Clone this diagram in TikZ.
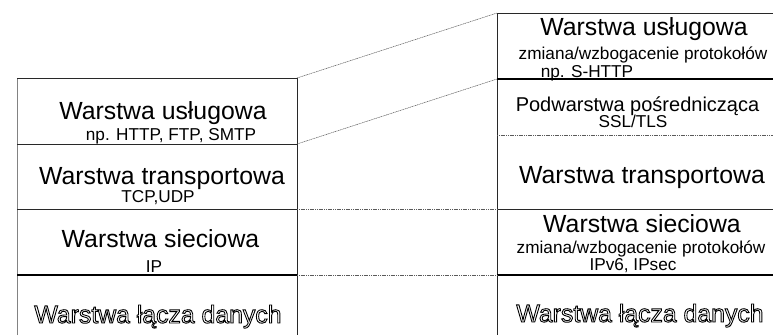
\documentclass[tikz,border=0pt]{standalone}
\usepackage{fontspec}
\setmainfont{Liberation Sans}
\usetikzlibrary{positioning}
\definecolor{linecolor}{RGB}{40,40,40}
\definecolor{sidecolor}{RGB}{130,130,130}
\definecolor{linkcolor}{RGB}{90,90,90}
\newcommand{\hollowtext}[1]{\special{pdf:literal direct 1 Tr 0.9 w}#1\special{pdf:literal direct 0 Tr}}

\begin{document}
\begin{tikzpicture}[x=1pt,y=-1pt,
  bigtext/.style={font=\fontsize{24.8}{26}\selectfont, inner sep=0pt, anchor=base},
  midtext/.style={font=\fontsize{20}{22}\selectfont, inner sep=0pt, anchor=base},
  smalltext/.style={font=\fontsize{17.2}{19}\selectfont, inner sep=0pt, anchor=base},
  layerline/.style={draw=linecolor, line width=0.8pt},
  boldline/.style={draw=black, line width=1.5pt},
  linkline/.style={draw=linkcolor, line width=0.5pt, dash pattern=on 1.2pt off 0.6pt}]

  % Frame
  \useasboundingbox (0,0) rectangle (773,335);
  \clip (0,0) rectangle (773,335);

  % Left stack corners
  \coordinate (ltl) at (17,78);
  \coordinate (ltr) at (297,78);
  \coordinate (l1) at (297,144);
  \coordinate (l2) at (297,209);
  \coordinate (l3) at (297,275);
  \coordinate (lbl) at (17,335);
  \coordinate (lbr) at (297,335);

  % Right stack corners
  \coordinate (rtl) at (497,13);
  \coordinate (rtr) at (773,13);
  \coordinate (r1) at (497,79);
  \coordinate (r2) at (497,135);
  \coordinate (r3) at (497,209);
  \coordinate (r4) at (497,275);
  \coordinate (rbl) at (497,335);

  % Left stack
  \draw[draw=sidecolor, line width=0.8pt] (lbl) -- (ltl);
  \draw[layerline] (ltl) -- (ltr) -- (lbr);
  \draw[layerline] (ltl |- l1) -- (l1);
  \draw[layerline] (ltl |- l2) -- (l2);
  \draw[boldline] (ltl |- l3) -- (l3);

  % Right stack
  \draw[layerline] (rtr) -- (rtl) -- (rbl);
  \draw[boldline] (r1) -- (r1 -| rtr);
  \draw[linkline] (r2) -- (r2 -| rtr);
  \draw[layerline] (r3) -- (r3 -| rtr);
  \draw[boldline] (r4) -- (r4 -| rtr);

  % Links between stacks
  \draw[linkline] (ltr) -- (rtl);
  \draw[linkline] (l1) -- (r1);
  \draw[linkline] (l2) -- (r3);
  \draw[linkline] (l3) -- (r4);

  % Left labels
  \node[bigtext] (lapp) at (163,119) {Warstwa usługowa};
  \node[smalltext] (lappex) at (171,140) {np. HTTP, FTP, SMTP};
  \node[bigtext] (ltrans) at (162,184) {Warstwa transportowa};
  \node[smalltext] (ltransex) at (158,202.5) {TCP,UDP};
  \node[bigtext] (lnet) at (160.5,247) {Warstwa sieciowa};
  \node[smalltext] (lnetex) at (154,272) {IP};
  \node[bigtext] (llink) at (158,323) {\hollowtext{Warstwa łącza danych}};

  % Right labels
  \node[bigtext] (rapp) at (644,35) {Warstwa usługowa};
  \node[smalltext] (rappchg) at (643,59) {zmiana/wzbogacenie protokołów};
  \node[smalltext] (rappex) at (587,77) {np. S-HTTP};
  \node[midtext] (rmid) at (637.5,111) {Podwarstwa pośrednicząca};
  \node[smalltext] (rmidex) at (633,127.5) {SSL/TLS};
  \node[bigtext] (rtrans) at (642,183) {Warstwa transportowa};
  \node[bigtext] (rnet) at (642,232) {Warstwa sieciowa};
  \node[smalltext] (rnetchg) at (641,253) {zmiana/wzbogacenie protokołów};
  \node[smalltext] (rnetex) at (633,270) {IPv6, IPsec};
  \node[bigtext] (rlink) at (640,322) {\hollowtext{Warstwa łącza danych}};
\end{tikzpicture}
\end{document}
